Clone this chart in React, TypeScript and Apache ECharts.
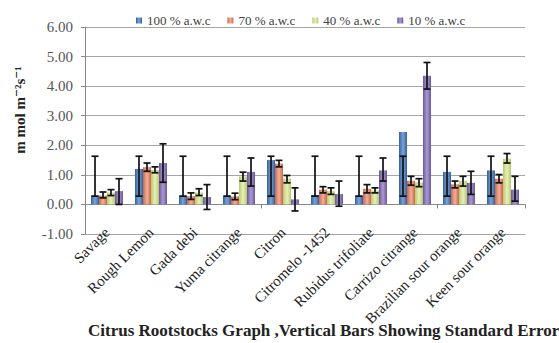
import React, { useEffect, useRef } from "react";
import * as echarts from "echarts";

const categories = [
  "Savage",
  "Rough Lemon",
  "Gada debi",
  "Yuma citrange",
  "Citron",
  "Citromelo -1452",
  "Rubidus trifoliate",
  "Carrizo citrange",
  "Brazilian sour orange",
  "Keen sour orange",
];

const seriesNames = ["100 % a.w.c", "70 % a.w.c", "40 % a.w.c", "10 % a.w.c"];

const v100 = [0.3, 1.2, 0.3, 0.3, 1.5, 0.32, 0.3, 2.45, 1.1, 1.15];
const lo100 = [0.28, 0.28, 0.28, 0.28, 0.28, 0.28, 0.28, 0.28, 0.28, 0.28];
const hi100 = [1.63, 1.63, 1.63, 1.63, 1.63, 1.63, 1.63, 1.63, 1.63, 1.63];

const v70 = [0.3, 1.26, 0.28, 0.27, 1.38, 0.5, 0.53, 0.8, 0.68, 0.87];
const lo70 = [0.22, 1.12, 0.17, 0.16, 1.27, 0.39, 0.39, 0.65, 0.56, 0.73];
const hi70 = [0.42, 1.4, 0.39, 0.38, 1.49, 0.6, 0.67, 0.95, 0.79, 1.01];

const v40 = [0.4, 1.17, 0.4, 0.95, 0.87, 0.45, 0.47, 0.75, 0.8, 1.55];
const lo40 = [0.3, 1.07, 0.3, 0.79, 0.73, 0.34, 0.39, 0.6, 0.62, 1.4];
const hi40 = [0.5, 1.27, 0.53, 1.09, 0.98, 0.56, 0.56, 0.87, 0.95, 1.72];

const v10 = [0.45, 1.4, 0.25, 1.1, 0.17, 0.35, 1.15, 4.35, 0.73, 0.5];
const lo10 = [0.0, 0.75, -0.17, 0.62, -0.22, -0.06, 0.79, 3.9, 0.34, 0.11];
const hi10 = [0.87, 2.05, 0.67, 1.57, 0.56, 0.79, 1.57, 4.8, 1.12, 0.95];

const yTicks = { min: -1, max: 6, interval: 1 };

const values = [v100, v70, v40, v10];
const lows = [lo100, lo70, lo40, lo10];
const highs = [hi100, hi70, hi40, hi10];

const edgeColors = ["#34619c", "#c8684f", "#b7c870", "#6a569a"];
const midColors = ["#7aa3d8", "#f2b095", "#e9f1b8", "#ab9ad2"];

const serif = "'Liberation Serif', 'DejaVu Serif', serif";

export default function App() {
  const ref = useRef<HTMLDivElement>(null);

  useEffect(() => {
    document.body.style.margin = "0";
    if (!ref.current) return;
    const chart = echarts.init(ref.current, undefined, { renderer: "svg" });

    const barSeries = values.map((vals, s) => ({
      name: seriesNames[s],
      type: "bar",
      xAxisIndex: 0,
      yAxisIndex: 0,
      data: vals,
      barGap: "0%",
      barCategoryGap: "27.3%",
      itemStyle: {
        color: new echarts.graphic.LinearGradient(0, 0, 1, 0, [
          { offset: 0, color: edgeColors[s] },
          { offset: 0.5, color: midColors[s] },
          { offset: 1, color: edgeColors[s] },
        ]),
      },
    }));

    const errSeries = values.map((_, s) => ({
      name: seriesNames[s] + " err",
      type: "custom",
      xAxisIndex: 0,
      yAxisIndex: 0,
      z: 5,
      silent: true,
      encode: { x: 0, y: [1, 2] },
      data: categories.map((_c, i) => [i, lows[s][i], highs[s][i]]),
      renderItem: (params: any, api: any) => {
        const idx = api.value(0);
        const lo = api.coord([idx, api.value(1)]);
        const hi = api.coord([idx, api.value(2)]);
        const catW = api.size([1, 0])[0];
        const bw = catW / 5.5;
        const x = lo[0] + (s - 1.5) * bw;
        const cap = 3.5;
        const st = { stroke: "#111", lineWidth: 1.7 };
        return {
          type: "group",
          children: [
            { type: "line", shape: { x1: x, y1: hi[1], x2: x, y2: lo[1] }, style: st },
            { type: "line", shape: { x1: x - cap, y1: hi[1], x2: x + cap, y2: hi[1] }, style: st },
            { type: "line", shape: { x1: x - cap, y1: lo[1], x2: x + cap, y2: lo[1] }, style: st },
          ],
        };
      },
    }));

    chart.setOption({
      animation: false,
      backgroundColor: "#ffffff",
      legend: {
        data: seriesNames,
        top: 9,
        left: 131,
        icon: "rect",
        itemWidth: 6,
        itemHeight: 6,
        itemGap: 17,
        textStyle: { fontFamily: serif, fontSize: 13, color: "#404040", width: 78, overflow: "none" },
      },
      grid: { left: 85, right: 34, top: 27, bottom: 109, containLabel: false },
      xAxis: [
        {
          type: "category",
          data: categories,
          position: "bottom",
          axisLine: { show: false, onZero: false },
          axisTick: { show: false },
          axisLabel: {
            rotate: 45,
            margin: -4,
            interval: 0,
            fontFamily: serif,
            fontSize: 15,
            color: "#222",
          },
        },
        {
          type: "category",
          data: categories,
          position: "bottom",
          axisLine: { show: true, onZero: true, lineStyle: { color: "#888", width: 1 } },
          axisTick: { show: true, length: 4, lineStyle: { color: "#888" } },
          axisLabel: { show: false },
        },
      ],
      yAxis: {
        type: "value",
        min: yTicks.min,
        max: yTicks.max,
        interval: yTicks.interval,
        axisLine: { show: true, lineStyle: { color: "#888" } },
        axisTick: { show: true, length: 4, lineStyle: { color: "#888" } },
        splitLine: { show: true, lineStyle: { color: "#a6a6a6", width: 1 } },
        axisLabel: {
          formatter: (v: number) => v.toFixed(2),
          fontFamily: serif,
          fontSize: 15,
          color: "#555",
          margin: 12,
        },
      },
      graphic: [
        {
          type: "text",
          x: 20,
          y: 110,
          rotation: Math.PI / 2,
          style: {
            text: "m mol m⁻²s⁻¹",
            fontFamily: serif,
            fontWeight: "bold",
            fontSize: 15,
            fill: "#222",
            textAlign: "center",
            textVerticalAlign: "middle",
          },
        },
        {
          type: "text",
          x: 88,
          y: 330,
          style: {
            text: "Citrus Rootstocks Graph ,Vertical Bars Showing Standard Error",
            fontFamily: serif,
            fontWeight: "bold",
            fontSize: 17,
            fill: "#222",
            textAlign: "left",
            textVerticalAlign: "middle",
          },
        },
      ],
      series: [...barSeries, ...errSeries],
    });

    return () => chart.dispose();
  }, []);

  return <div ref={ref} style={{ width: 559, height: 343 }} />;
}
